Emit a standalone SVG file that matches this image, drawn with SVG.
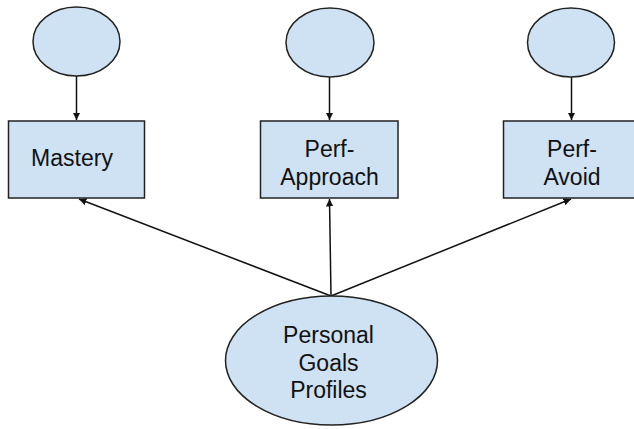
<svg xmlns="http://www.w3.org/2000/svg" width="634" height="429" viewBox="0 0 634 429">
<style>
.n{fill:#cfe2f3;stroke:#222;stroke-width:1.5}
.t{font-family:"Liberation Sans",Arial,sans-serif;font-size:23px;fill:#111;text-anchor:middle}
.c{stroke:#111;stroke-width:1.5;fill:none;marker-end:url(#ah)}
</style>
<defs>
<marker id="ah" viewBox="0 0 10 10" refX="10" refY="5" markerWidth="5" markerHeight="5" orient="auto" markerUnits="strokeWidth">
<path d="M0,0 L10,5 L0,10 z" fill="#111"/>
</marker>
</defs>
<rect width="634" height="429" fill="#fff"/>
<g id="connectors">
<line class="c" x1="76.5" y1="76" x2="76.5" y2="120"/>
<line class="c" x1="329.5" y1="77" x2="329.5" y2="120"/>
<line class="c" x1="571.5" y1="77" x2="571.5" y2="120"/>
<line class="c" x1="331" y1="296" x2="79" y2="199"/>
<line class="c" x1="331" y1="296" x2="329.5" y2="199"/>
<line class="c" x1="331" y1="296" x2="571" y2="199"/>
</g>
<g id="latent-mastery"><ellipse class="n" cx="76.5" cy="41.5" rx="43.5" ry="34.5"/></g>
<g id="latent-approach"><ellipse class="n" cx="330" cy="42.5" rx="44" ry="34.5"/></g>
<g id="latent-avoid"><ellipse class="n" cx="571" cy="42.5" rx="43.5" ry="34.5"/></g>
<g id="mastery"><rect class="n" x="8.5" y="121" width="136" height="77"/><text class="t" x="72" y="166">Mastery</text></g>
<g id="perf-approach"><rect class="n" x="260.5" y="121" width="137.5" height="77"/><text class="t" x="329.5" y="157">Perf-</text><text class="t" x="329.5" y="185">Approach</text></g>
<g id="perf-avoid"><rect class="n" x="503.5" y="121" width="137" height="77"/><text class="t" x="572" y="157">Perf-</text><text class="t" x="572" y="185">Avoid</text></g>
<g id="profiles"><ellipse class="n" cx="331.5" cy="360.5" rx="106" ry="64.5"/><text class="t" x="328.5" y="343">Personal</text><text class="t" x="328.5" y="370.5">Goals</text><text class="t" x="328.5" y="398">Profiles</text></g>
</svg>
